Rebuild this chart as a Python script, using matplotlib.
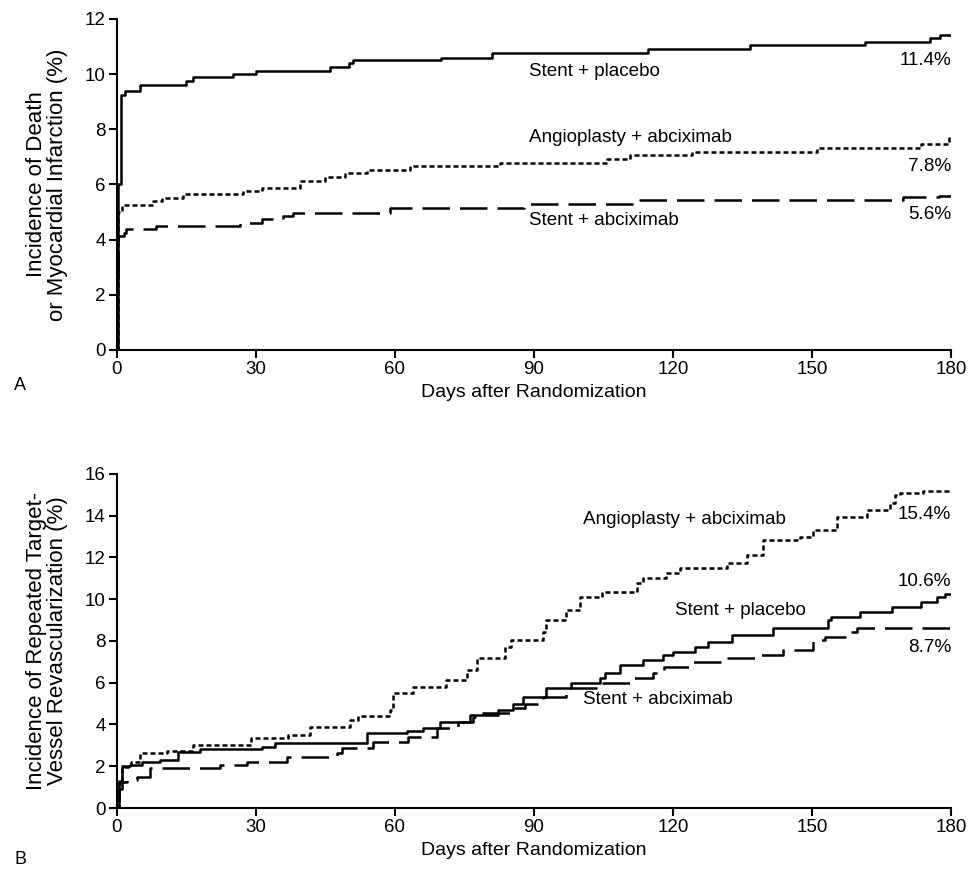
import matplotlib
matplotlib.use("Agg")
import matplotlib.pyplot as plt

plt.rcParams['font.family'] = ['Liberation Sans', 'DejaVu Sans']

# Panel A: death or myocardial infarction (days, % incidence)
a_placebo_t = [0, 0.3, 0.8, 1.7, 5, 15, 16.5, 25, 30, 46, 50, 51, 70, 81, 114.6, 136.6, 161.4, 175.5, 177.6, 180]
a_placebo_y = [0, 6.0, 9.25, 9.4, 9.6, 9.75, 9.9, 10.0, 10.1, 10.27, 10.4, 10.5, 10.6, 10.78, 10.9, 11.06, 11.18, 11.3, 11.43, 11.43]
a_angio_t = [0, 0.3, 1.0, 7.8, 9.8, 14.3, 27.2, 31.2, 39.5, 45, 49.2, 53.9, 63.2, 82.6, 105.7, 110.7, 124, 151, 173.6, 179.5, 180]
a_angio_y = [0, 5.0, 5.25, 5.4, 5.5, 5.65, 5.77, 5.88, 6.13, 6.28, 6.4, 6.53, 6.67, 6.79, 6.91, 7.07, 7.19, 7.34, 7.47, 7.73, 7.73]
a_abcix_t = [0, 0.3, 1.6, 2.0, 8.5, 26.5, 31.2, 35.8, 38, 58.9, 87.8, 111.8, 169.7, 177.5, 180]
a_abcix_y = [2.6, 4.15, 4.25, 4.37, 4.5, 4.62, 4.75, 4.86, 4.95, 5.15, 5.31, 5.44, 5.56, 5.6, 5.6]

# Panel B: repeated target-vessel revascularization
b_angio_t = [0, 0.5, 1.0, 3, 5, 10.7, 16.4, 29, 37, 41.7, 50.3, 52, 58.9, 59.5, 64, 71, 75.5, 77.6, 83.8, 85,
             92, 92.7, 97, 100, 104.6, 112.2, 113.6, 118.6, 121.5, 131.6, 135.9, 139.5, 147.4, 150.3, 155.3,
             161.8, 166.8, 167.9, 169, 174, 180]
b_angio_y = [0, 1.2, 1.98, 2.2, 2.62, 2.73, 3.02, 3.34, 3.5, 3.9, 4.2, 4.4, 4.7, 5.52, 5.81, 6.13, 6.61, 7.17, 7.73, 8.05,
             8.45, 9.0, 9.48, 10.12, 10.36, 10.76, 11.0, 11.24, 11.48, 11.72, 12.12, 12.84, 13.0, 13.32, 13.95,
             14.28, 14.6, 15.0, 15.1, 15.19, 15.19]
b_placebo_t = [0, 0.5, 1.0, 2.8, 5.5, 9.3, 13.2, 17.9, 31.2, 34.1, 53.9, 62.5, 66.1, 69.7, 76.2, 82.2, 85.5, 87.7,
               92.7, 98.1, 104.3, 105.4, 108.6, 113.6, 117.9, 120.1, 124.8, 127.6, 132.7, 141.6, 153.5, 154,
               160.4, 167.2, 173.6, 176.9, 178.8, 180]
b_placebo_y = [0, 1.3, 2.0, 2.06, 2.22, 2.3, 2.7, 2.81, 2.94, 3.1, 3.58, 3.69, 3.82, 4.13, 4.46, 4.69, 5.0, 5.33,
               5.73, 5.97, 6.21, 6.45, 6.85, 7.09, 7.33, 7.49, 7.73, 7.97, 8.29, 8.61, 9.0, 9.17,
               9.41, 9.65, 9.89, 10.12, 10.25, 10.25]
b_abcix_t = [0, 0.5, 1.0, 2.1, 4.3, 7.1, 22.2, 28, 36.6, 47.4, 48.5, 55.3, 62.9, 69, 73.5, 76.9, 78.3, 85.2, 88,
             91.9, 97, 105, 110.7, 115.7, 118, 124.4, 130.9, 138, 143.8, 150.3, 152.8, 157.1, 159.7, 180]
b_abcix_y = [0.5, 0.9, 1.26, 1.34, 1.5, 1.9, 2.06, 2.22, 2.46, 2.62, 2.86, 3.18, 3.42, 3.82, 4.13, 4.37, 4.53, 4.81, 5.0,
             5.33, 5.73, 5.97, 6.21, 6.45, 6.77, 7.01, 7.17, 7.33, 7.57, 8.05, 8.21, 8.45, 8.61, 8.61]

x_ticks = [0, 30, 60, 90, 120, 150, 180]

solid = dict(color='black', lw=1.8, linestyle='-')
dotted = dict(color='black', lw=1.8, linestyle=(0, (2.0, 1.2)))
dashed = dict(color='black', lw=1.8, linestyle=(0, (11, 4)))

fig = plt.figure(figsize=(9.69, 8.82), dpi=100)
ax_a = fig.add_axes([0.1207, 0.6032, 0.8607, 0.3753])
ax_b = fig.add_axes([0.1207, 0.0839, 0.8607, 0.3787])

ann = 13.6


def style_axis(ax, ymax, ystep):
    ax.set_xlim(0, 180)
    ax.set_ylim(0, ymax)
    ax.set_xticks(x_ticks)
    ax.set_yticks(range(0, ymax + 1, ystep))
    for s in ['top', 'right']:
        ax.spines[s].set_visible(False)
    for s in ['left', 'bottom']:
        ax.spines[s].set_linewidth(1.5)
    ax.tick_params(direction='out', length=6, width=1.5, labelsize=13.5, pad=2)
    ax.set_xlabel('Days after Randomization', fontsize=14, labelpad=4)


ax_a.step(a_placebo_t, a_placebo_y, where='post', **solid)
ax_a.step(a_angio_t, a_angio_y, where='post', **dotted)
ax_a.step(a_abcix_t, a_abcix_y, where='post', **dashed)
style_axis(ax_a, 12, 2)
ax_a.set_ylabel('Incidence of Death\nor Myocardial Infarction (%)', labelpad=12, fontsize=16, linespacing=1.05)

ax_a.text(89, 10.1, 'Stent + placebo', fontsize=ann, ha='left', va='center')
ax_a.text(180, 10.5, '11.4%', fontsize=ann, ha='right', va='center')
ax_a.text(89, 7.7, 'Angioplasty + abciximab', fontsize=ann, ha='left', va='center')
ax_a.text(180, 6.65, '7.8%', fontsize=ann, ha='right', va='center')
ax_a.text(89, 4.68, 'Stent + abciximab', fontsize=ann, ha='left', va='center')
ax_a.text(180, 4.9, '5.6%', fontsize=ann, ha='right', va='center')

ax_b.step(b_angio_t, b_angio_y, where='post', **dotted)
ax_b.step(b_placebo_t, b_placebo_y, where='post', **solid)
ax_b.step(b_abcix_t, b_abcix_y, where='post', **dashed)
style_axis(ax_b, 16, 2)
ax_b.set_ylabel('Incidence of Repeated Target-\nVessel Revascularization (%)', labelpad=12, fontsize=16, linespacing=1.05)

ax_b.text(100.5, 13.8, 'Angioplasty + abciximab', fontsize=ann, ha='left', va='center')
ax_b.text(180, 14.05, '15.4%', fontsize=ann, ha='right', va='center')
ax_b.text(180, 10.85, '10.6%', fontsize=ann, ha='right', va='center')
ax_b.text(120.5, 9.45, 'Stent + placebo', fontsize=ann, ha='left', va='center')
ax_b.text(180, 7.7, '8.7%', fontsize=ann, ha='right', va='center')
ax_b.text(100.5, 5.2, 'Stent + abciximab', fontsize=ann, ha='left', va='center')

fig.text(14 / 969, 1 - 386 / 882, 'A', fontsize=13, ha='left', va='center')
fig.text(14 / 969, 1 - 860 / 882, 'B', fontsize=13, ha='left', va='center')

fig.savefig('out.png', dpi=100)
